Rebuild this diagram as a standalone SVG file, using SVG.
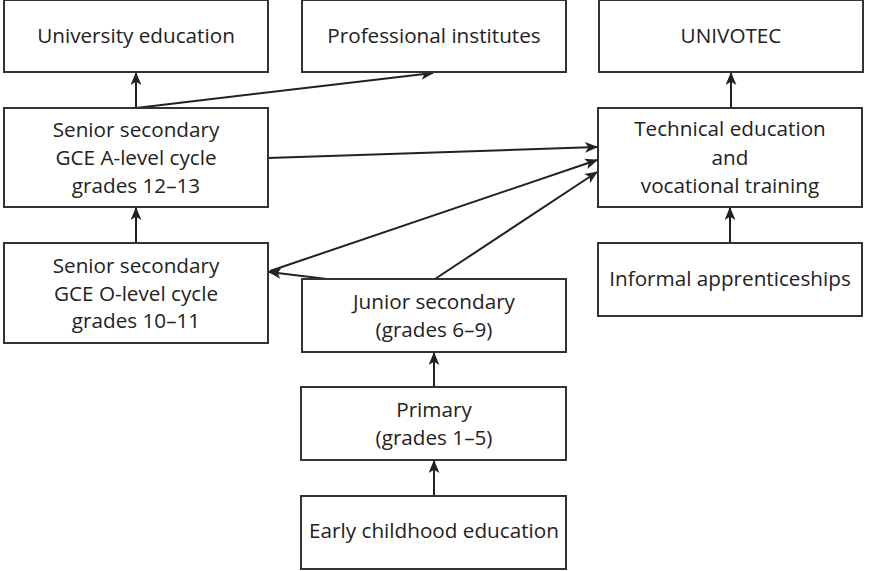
<svg xmlns="http://www.w3.org/2000/svg" width="869" height="571" viewBox="0 0 869 571">
<defs>
<marker id="ah" viewBox="0 0 12 10" refX="11" refY="5" markerWidth="13" markerHeight="11" markerUnits="userSpaceOnUse" orient="auto">
<path d="M0,0 L12,5 L0,10 L3,5 Z" fill="#222"/>
</marker>
<style>
.box{fill:#fff;stroke:#333;stroke-width:2}
.t{font-family:"Open Sans","Liberation Sans",sans-serif;font-size:20.7px;fill:#222;text-anchor:middle}
.c{fill:none;stroke:#222;stroke-width:2;marker-end:url(#ah)}
</style>
</defs>
<rect width="869" height="571" fill="#fff"/>
<g id="connectors">
<line class="c" x1="136" y1="108" x2="136" y2="73"/>
<line class="c" x1="136" y1="108" x2="433" y2="73"/>
<line class="c" x1="731" y1="108" x2="731" y2="73"/>
<line class="c" x1="268" y1="158" x2="597" y2="147"/>
<line class="c" x1="270" y1="271" x2="597" y2="160"/>
<line class="c" x1="435" y1="279" x2="597" y2="172"/>
<line class="c" x1="327" y1="279" x2="269" y2="272"/>
<line class="c" x1="136" y1="243" x2="136" y2="208"/>
<line class="c" x1="730" y1="243" x2="730" y2="208"/>
<line class="c" x1="434" y1="387" x2="434" y2="353"/>
<line class="c" x1="434" y1="496" x2="434" y2="461"/>
</g>
<g id="university"><rect class="box" x="4" y="0" width="264" height="72"/><text class="t" x="136" y="43">University education</text></g>
<g id="professional"><rect class="box" x="302" y="0" width="264" height="72"/><text class="t" x="434" y="43">Professional institutes</text></g>
<g id="univotec"><rect class="box" x="599" y="0" width="264" height="72"/><text class="t" x="731" y="43">UNIVOTEC</text></g>
<g id="alevel"><rect class="box" x="4" y="108" width="264" height="99"/><text class="t" x="136" y="137">Senior secondary</text><text class="t" x="136" y="165">GCE A-level cycle</text><text class="t" x="136" y="193">grades 12–13</text></g>
<g id="technical"><rect class="box" x="598" y="108" width="264" height="99"/><text class="t" x="730" y="136">Technical education</text><text class="t" x="730" y="165">and</text><text class="t" x="730" y="193">vocational training</text></g>
<g id="olevel"><rect class="box" x="4" y="243" width="264" height="100"/><text class="t" x="136" y="273">Senior secondary</text><text class="t" x="136" y="301">GCE O-level cycle</text><text class="t" x="136" y="328">grades 10–11</text></g>
<g id="informal"><rect class="box" x="598" y="243" width="264" height="73"/><text class="t" x="730" y="286">Informal apprenticeships</text></g>
<g id="junior"><rect class="box" x="302" y="279" width="264" height="73"/><text class="t" x="434" y="309">Junior secondary</text><text class="t" x="434" y="337">(grades 6–9)</text></g>
<g id="primary"><rect class="box" x="301" y="387" width="265" height="73"/><text class="t" x="434" y="417">Primary</text><text class="t" x="434" y="445">(grades 1–5)</text></g>
<g id="early"><rect class="box" x="301" y="496" width="265" height="73"/><text class="t" x="434" y="538">Early childhood education</text></g>
</svg>
